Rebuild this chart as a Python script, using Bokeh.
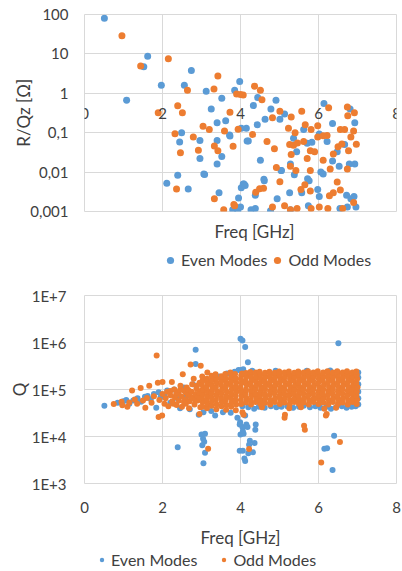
import math
from bokeh.plotting import figure
from bokeh.models import (FixedTicker, Legend, LegendItem, LinearAxis, Title)
from bokeh.layouts import column
from bokeh.embed import file_html
from bokeh.resources import INLINE

# ---------------- data ----------------
freq_ticks = [0, 2, 4, 6, 8]
freq_tick_labels = ["0", "2", "4", "6", "8"]
rq_ticks = [0.001, 0.01, 0.1, 1, 10, 100]
rq_tick_labels = ["0,001", "0,01", "0,1", "1", "10", "100"]
q_ticks = [1e3, 1e4, 1e5, 1e6, 1e7]
q_tick_labels = ["1E+3", "1E+4", "1E+5", "1E+6", "1E+7"]
series_names = ["Even Modes", "Odd Modes"]

even_rq_f = [0.51, 1.08, 1.52, 1.62, 1.97, 2.11, 2.39, 2.44, 2.49, 2.56, 2.66, 2.74, 2.96, 2.96, 3.06,
             3.08, 3.12, 3.25, 3.40, 3.40, 3.40, 3.45, 3.52, 3.52, 3.62, 3.72, 3.73, 3.80, 3.85, 3.93,
             3.95, 3.98, 4.00, 4.02, 4.02, 4.07, 4.09, 4.12, 4.15, 4.17, 4.20, 4.27, 4.33, 4.38, 4.38,
             4.43, 4.44, 4.51, 4.60, 4.61, 4.63, 4.77, 4.78, 4.91, 4.94, 5.01, 5.04, 5.05, 5.13, 5.26,
             5.28, 5.28, 5.36, 5.38, 5.44, 5.57, 5.62, 5.71, 5.72, 5.74, 5.76, 5.83, 5.98, 6.02, 6.02,
             6.06, 6.12, 6.14, 6.22, 6.36, 6.36, 6.48, 6.53, 6.55, 6.67, 6.72, 6.74, 6.79, 6.81, 6.83,
             6.91, 6.93, 6.93, 6.96]
even_rq_v = [80, 0.67, 4.7, 8.7, 1.6, 0.0052, 0.0083, 0.058, 0.1, 1.6, 0.0037, 3.8, 0.063, 0.022, 0.009,
             0.0087, 1.12, 0.4, 0.18, 0.063, 0.016, 0.003, 0.75, 0.025, 0.2, 0.087, 0.083, 0.0011, 1.2, 0.00105,
             0.0022, 2.0, 0.0013, 0.13, 0.004, 0.005, 0.005, 0.0046, 0.13, 0.062, 0.062, 0.0011, 0.49, 0.0026, 0.0012,
             0.16, 0.78, 0.02, 0.0066, 0.006, 0.22, 0.00105, 0.4, 0.67, 0.0021, 0.22, 0.011, 0.011, 0.3, 0.003,
             0.0011, 0.016, 0.072, 0.0086, 0.033, 0.003, 0.12, 0.054, 0.0068, 0.0014, 0.006, 0.057, 0.0036, 0.093, 0.0024,
             0.01, 0.009, 0.55, 0.06, 0.17, 0.019, 0.033, 0.014, 0.0012, 0.05, 0.0026, 0.0013, 0.016, 0.4, 0.0021,
             0.0024, 0.18, 0.016, 0.0013]

odd_rq_f = [0.96, 1.44, 1.89, 2.15, 2.32, 2.36, 2.39, 2.46, 2.51, 2.64, 2.79, 2.92, 3.04, 3.20, 3.32,
            3.33, 3.33, 3.42, 3.42, 3.57, 3.59, 3.73, 3.81, 3.83, 3.85, 3.90, 3.94, 4.00, 4.07, 4.31,
            4.36, 4.39, 4.49, 4.51, 4.55, 4.59, 4.68, 4.82, 4.82, 4.87, 4.92, 5.01, 5.01, 5.13, 5.23,
            5.26, 5.28, 5.28, 5.30, 5.30, 5.36, 5.40, 5.42, 5.45, 5.46, 5.55, 5.57, 5.62, 5.65, 5.66,
            5.71, 5.79, 5.79, 5.79, 5.81, 5.81, 5.90, 5.98, 5.98, 6.02, 6.12, 6.12, 6.22, 6.24, 6.26,
            6.28, 6.30, 6.38, 6.38, 6.48, 6.50, 6.56, 6.56, 6.60, 6.62, 6.67, 6.74, 6.74, 6.75, 6.77,
            6.83, 6.90, 6.90, 6.92, 6.97]
odd_rq_v = [29, 4.9, 0.32, 7.5, 0.094, 0.0037, 0.48, 0.031, 0.32, 1.19, 0.078, 0.036, 0.146, 0.12, 1.28,
            0.046, 0.0021, 2.75, 0.035, 0.0011, 0.11, 0.33, 0.045, 0.0015, 0.0014, 0.96, 0.123, 0.93, 0.9, 0.09,
            1.5, 0.0031, 0.0038, 1.2, 0.69, 0.0039, 0.06, 0.24, 0.0013, 0.039, 0.013, 0.35, 0.0057, 0.0014, 0.13,
            0.05, 0.014, 0.0011, 0.25, 0.028, 0.048, 0.1, 0.011, 0.0012, 0.055, 0.0036, 0.35, 0.06, 0.0048, 0.16,
            0.022, 0.035, 0.011, 0.0033, 0.12, 0.0012, 0.033, 0.15, 0.078, 0.0013, 0.084, 0.02, 0.085, 0.0012, 0.43,
            0.0025, 0.012, 0.029, 0.003, 0.0056, 0.044, 0.12, 0.0035, 0.052, 0.0012, 0.12, 0.45, 0.012, 0.27, 0.035,
            0.078, 0.11, 0.0017, 0.32, 0.051]

# (frequency GHz, Q)
even_q = [
    (0.51, 4.5e4), (0.85, 5.2e4), (1.0, 5.6e4), (1.07, 6.0e4), (1.15, 5.0e4), (1.25, 5.8e4), (1.36, 6.5e4),
    (1.45, 5.5e4), (1.55, 7.0e4), (1.62, 7.3e4), (1.7, 6.2e4), (1.78, 8.0e4), (1.84, 4.1e4), (1.9, 8.7e4),
    (1.95, 6.8e4), (2.05, 7.5e4), (2.12, 9.5e4), (2.2, 5.2e4), (2.3, 1.0e5), (2.38, 6.5e4), (2.45, 4.0e4),
    (2.55, 1.1e5), (2.6, 7.0e4), (2.7, 3.8e4), (2.78, 1.3e5), (2.85, 3.5e5), (2.85, 7.0e5), (2.93, 2.9e4),
    (3.0, 9.0e4), (3.05, 3.3e4), (3.15, 1.5e5), (3.25, 3.5e4), (3.35, 2.8e4), (3.45, 1.9e5), (3.55, 3.3e4),
    (3.65, 2.2e5), (3.75, 3.2e4), (3.85, 2.4e5), (3.92, 2.5e4), (3.95, 2.6e5),
    (2.39, 5.9e3), (3.09, 1.15e4), (3.07, 7.7e3), (3.04, 9.0e3), (3.09, 4.5e3), (3.05, 2.7e3), (3.0, 1.1e4),
    (3.02, 6.5e3),
    (4.0, 1.2e6), (4.05, 1.1e6), (4.12, 8.0e5), (4.19, 3.8e5), (4.02, 2.6e5), (4.07, 2.7e5), (3.99, 2.0e4),
    (3.98, 1.8e4), (4.0, 1.1e4), (3.98, 5.0e3), (4.05, 1.6e4), (4.06, 1.3e4), (4.08, 1.15e4), (4.12, 2.8e4),
    (4.15, 1.8e4), (4.18, 1.6e4), (4.24, 8.1e3), (4.22, 6.7e3), (4.2, 4.4e3), (4.06, 5.0e3), (4.32, 4.6e3),
    (4.12, 3.0e3), (4.1, 3.4e3), (4.39, 1.8e4), (4.38, 1.4e4), (4.36, 7.3e3),
    (6.51, 9.6e5), (6.4, 1.04e4), (6.15, 5.5e3), (6.22, 5.6e3), (6.36, 1.94e3),
    (4.05, 4.4e4), (4.2, 4.2e4), (4.35, 3.9e4), (4.47, 4.3e4), (4.62, 4.1e4), (4.78, 4.4e4), (4.92, 4.2e4),
    (5.05, 4.3e4), (5.2, 4.4e4), (5.35, 4.1e4), (5.5, 4.3e4), (5.62, 4.5e4), (5.78, 4.2e4), (5.92, 4.4e4),
    (6.05, 4.1e4), (6.2, 4.3e4), (6.32, 3.9e4), (6.45, 4.2e4), (6.6, 4.4e4), (6.72, 4.1e4), (6.85, 4.3e4),
    (6.95, 4.4e4), (7.02, 4.8e4), (7.02, 6.5e4), (7.02, 9.0e4), (7.02, 1.3e5), (7.02, 1.8e5), (7.02, 2.3e5),
    (4.3, 2.5e5), (4.9, 2.5e5), (5.7, 2.5e5), (6.3, 2.55e5),
]

odd_q = [
    (0.75, 4.9e4), (0.95, 5.5e4), (0.97, 4.6e4), (1.1, 4.3e4), (1.15, 5.3e4), (1.22, 9.5e4), (1.29, 6.1e4),
    (1.35, 5.0e4), (1.44, 1.07e5), (1.5, 5.8e4), (1.56, 4.1e4), (1.6, 6.6e4), (1.66, 1.2e5), (1.72, 5.2e4),
    (1.78, 7.2e4), (1.85, 5.3e5), (1.88, 1.4e5), (1.9, 2.6e4), (1.92, 6.0e4), (1.99, 2.8e4), (2.0, 1.45e5),
    (2.0, 8.0e4), (2.05, 5.0e4),
    (2.08, 6.5e4), (2.12, 9.0e4), (2.15, 4.4e4), (2.2, 7.5e4), (2.2, 9.3e4), (2.24, 1.45e5), (2.25, 5.6e4),
    (2.28, 5.0e4), (2.3, 1.0e5), (2.32, 6.8e4), (2.35, 7.8e4), (2.36, 4.7e4), (2.4, 8.5e4), (2.42, 5.8e4),
    (2.45, 9.8e4), (2.46, 1.2e5), (2.48, 7.2e4), (2.5, 4.3e4), (2.52, 2.1e5), (2.55, 9.5e4), (2.55, 5.4e4),
    (2.58, 6.2e4), (2.6, 8.5e4), (2.6, 5.0e4), (2.62, 1.1e5), (2.65, 7.8e4), (2.66, 9.8e4), (2.68, 4.0e4),
    (2.7, 5.6e4), (2.72, 3.4e5), (2.72, 7.0e4), (2.74, 9.0e4), (2.76, 1.3e5), (2.78, 6.6e4), (2.8, 1.7e5),
    (2.82, 4.8e4), (2.84, 6.0e4), (2.85, 8.0e4), (2.87, 1.05e5), (2.88, 1.2e5), (2.9, 5.8e4), (2.92, 7.0e4),
    (2.94, 8.6e4), (2.95, 1.4e5), (2.95, 3.0e4), (2.97, 4.2e4), (2.98, 3.2e5), (3.0, 9.5e4),
    (3.02, 4.3e4), (3.03, 5.4e4), (3.01, 6.6e4), (3.02, 8.2e4), (3.04, 1.0e5), (3.01, 1.25e5), (3.03, 1.55e5), (3.02, 1.9e5),
    (3.14, 4.0e4), (3.15, 4.9e4), (3.13, 6.0e4), (3.14, 7.4e4), (3.16, 9.1e4), (3.13, 1.12e5), (3.15, 1.38e5), (3.14, 1.7e5), (3.15, 2.3e5),
    (3.26, 4.5e4), (3.27, 5.6e4), (3.25, 6.8e4), (3.26, 8.4e4), (3.28, 1.04e5), (3.25, 1.28e5), (3.27, 1.58e5), (3.26, 1.95e5),
    (3.38, 3.8e4), (3.39, 4.8e4), (3.37, 6.0e4), (3.38, 7.5e4), (3.40, 9.2e4), (3.37, 1.13e5), (3.39, 1.4e5), (3.38, 1.72e5), (3.36, 2.1e5),
    (3.51, 4.4e4), (3.52, 5.5e4), (3.50, 6.7e4), (3.51, 8.3e4), (3.53, 1.02e5), (3.50, 1.26e5), (3.52, 1.55e5), (3.51, 1.92e5),
    (3.63, 3.7e4), (3.64, 4.7e4), (3.62, 5.9e4), (3.63, 7.3e4), (3.65, 9.0e4), (3.62, 1.11e5), (3.64, 1.37e5), (3.63, 1.7e5), (3.61, 2.15e5),
    (3.76, 4.3e4), (3.77, 5.3e4), (3.75, 6.6e4), (3.76, 8.2e4), (3.78, 1.01e5), (3.75, 1.24e5), (3.77, 1.53e5), (3.76, 1.9e5), (3.74, 2.3e5),
    (3.88, 3.6e4), (3.89, 4.8e4), (3.87, 5.9e4), (3.88, 7.4e4), (3.90, 9.1e4), (3.87, 1.13e5), (3.89, 1.39e5), (3.88, 1.72e5), (3.86, 2.15e5),
    (3.17, 5.5e3), (4.22, 5.4e3), (5.13, 2.5e4), (5.14, 2.9e4), (5.63, 1.7e4), (5.65, 1.4e4), (6.19, 2.8e4),
    (6.21, 3.0e4), (6.07, 2.8e3), (6.55, 7.6e3), (4.05, 3.3e4), (4.08, 2.9e4),
    (5.25, 4.0e4), (5.55, 4.2e4), (6.15, 3.9e4), (6.45, 4.1e4), (4.55, 4.2e4),
    (4.02, 4.9e4), (4.01, 6.0e4), (4.03, 7.4e4), (4.02, 9.1e4), (4.00, 1.12e5), (4.03, 1.38e5), (4.01, 1.68e5), (4.02, 2.0e5), (4.04, 2.2e5),
    (4.14, 5.3e4), (4.15, 6.6e4), (4.13, 8.2e4), (4.14, 1.0e5), (4.16, 1.24e5), (4.13, 1.52e5), (4.15, 1.86e5), (4.14, 2.25e5),
    (4.27, 4.8e4), (4.26, 6.0e4), (4.28, 7.5e4), (4.27, 9.3e4), (4.29, 1.13e5), (4.26, 1.4e5), (4.28, 1.72e5), (4.27, 2.08e5), (4.25, 2.35e5),
    (4.39, 5.4e4), (4.40, 6.7e4), (4.38, 8.1e4), (4.39, 1.02e5), (4.41, 1.26e5), (4.38, 1.55e5), (4.40, 1.89e5), (4.39, 2.3e5),
    (4.51, 4.9e4), (4.52, 5.9e4), (4.50, 7.3e4), (4.51, 9.0e4), (4.53, 1.1e5), (4.50, 1.36e5), (4.52, 1.69e5), (4.51, 2.06e5), (4.49, 2.4e5),
    (4.63, 5.2e4), (4.64, 6.5e4), (4.62, 8.0e4), (4.63, 1.01e5), (4.65, 1.23e5), (4.62, 1.5e5), (4.64, 1.85e5), (4.63, 2.26e5),
    (4.76, 4.8e4), (4.77, 6.0e4), (4.75, 7.6e4), (4.76, 9.2e4), (4.78, 1.14e5), (4.75, 1.4e5), (4.77, 1.71e5), (4.76, 2.09e5), (4.74, 2.4e5),
    (4.88, 5.4e4), (4.89, 6.6e4), (4.87, 8.3e4), (4.88, 1.03e5), (4.90, 1.25e5), (4.87, 1.53e5), (4.89, 1.87e5), (4.88, 2.27e5),
    (5.01, 4.9e4), (5.02, 6.1e4), (5.00, 7.4e4), (5.01, 9.1e4), (5.03, 1.12e5), (5.00, 1.39e5), (5.02, 1.7e5), (5.01, 2.05e5), (4.99, 2.42e5),
    (5.13, 5.3e4), (5.14, 6.7e4), (5.12, 8.1e4), (5.13, 1.0e5), (5.15, 1.24e5), (5.12, 1.54e5), (5.14, 1.88e5), (5.13, 2.3e5),
    (5.26, 4.8e4), (5.27, 6.0e4), (5.25, 7.5e4), (5.26, 9.3e4), (5.28, 1.13e5), (5.25, 1.38e5), (5.27, 1.7e5), (5.26, 2.07e5), (5.24, 2.42e5),
    (5.38, 5.4e4), (5.39, 6.6e4), (5.37, 8.2e4), (5.38, 1.02e5), (5.40, 1.25e5), (5.37, 1.55e5), (5.39, 1.88e5), (5.38, 2.28e5),
    (5.50, 4.9e4), (5.51, 6.0e4), (5.49, 7.4e4), (5.50, 9.2e4), (5.52, 1.12e5), (5.49, 1.38e5), (5.51, 1.7e5), (5.50, 2.06e5), (5.48, 2.43e5),
    (5.62, 5.3e4), (5.63, 6.6e4), (5.61, 8.2e4), (5.62, 1.01e5), (5.64, 1.24e5), (5.61, 1.53e5), (5.63, 1.87e5), (5.62, 2.29e5),
    (5.75, 4.8e4), (5.76, 6.0e4), (5.74, 7.5e4), (5.75, 9.3e4), (5.77, 1.13e5), (5.74, 1.39e5), (5.76, 1.71e5), (5.75, 2.08e5), (5.73, 2.44e5),
    (5.87, 5.4e4), (5.88, 6.6e4), (5.86, 8.2e4), (5.87, 1.02e5), (5.89, 1.25e5), (5.86, 1.54e5), (5.88, 1.88e5), (5.87, 2.3e5),
    (6.00, 4.9e4), (6.01, 6.1e4), (5.99, 7.4e4), (6.00, 9.1e4), (6.02, 1.12e5), (5.99, 1.38e5), (6.01, 1.7e5), (6.00, 2.06e5), (5.98, 2.44e5),
    (6.12, 5.3e4), (6.13, 6.6e4), (6.11, 8.2e4), (6.12, 1.01e5), (6.14, 1.24e5), (6.11, 1.53e5), (6.13, 1.87e5), (6.12, 2.3e5),
    (6.25, 4.8e4), (6.26, 6.0e4), (6.24, 7.5e4), (6.25, 9.3e4), (6.27, 1.13e5), (6.24, 1.39e5), (6.26, 1.71e5), (6.25, 2.08e5), (6.23, 2.45e5),
    (6.37, 5.4e4), (6.38, 6.6e4), (6.36, 8.2e4), (6.37, 1.02e5), (6.39, 1.25e5), (6.36, 1.54e5), (6.38, 1.88e5), (6.37, 2.3e5),
    (6.50, 4.9e4), (6.51, 6.1e4), (6.49, 7.4e4), (6.50, 9.1e4), (6.52, 1.12e5), (6.49, 1.38e5), (6.51, 1.7e5), (6.50, 2.06e5), (6.48, 2.45e5),
    (6.62, 5.3e4), (6.63, 6.6e4), (6.61, 8.2e4), (6.62, 1.01e5), (6.64, 1.24e5), (6.61, 1.53e5), (6.63, 1.87e5), (6.62, 2.3e5),
    (6.75, 4.8e4), (6.76, 6.0e4), (6.74, 7.5e4), (6.75, 9.3e4), (6.77, 1.13e5), (6.74, 1.39e5), (6.76, 1.71e5), (6.75, 2.08e5), (6.73, 2.45e5),
    (6.87, 5.4e4), (6.88, 6.6e4), (6.86, 8.2e4), (6.87, 1.02e5), (6.89, 1.25e5), (6.86, 1.54e5), (6.88, 1.88e5), (6.87, 2.3e5),
    (6.98, 4.9e4), (6.99, 6.1e4), (6.97, 7.4e4), (6.98, 9.1e4), (7.00, 1.12e5), (6.97, 1.38e5), (6.99, 1.7e5), (6.98, 2.06e5), (6.97, 2.42e5),
]

even_q_f = [a for a, b in even_q]
even_q_v = [b for a, b in even_q]
odd_q_f = [a for a, b in odd_q]
odd_q_v = [b for a, b in odd_q]

# ---------------- style ----------------
FONT = "Lato"
BLUE = "#5B9BD5"
ORANGE = "#ED7D31"
TXT = "#404040"
GRID = "#D9D9D9"
W = 402
NAN = float("nan")


def style(p, yticks, ylabels):
    p.background_fill_color = "white"
    p.border_fill_color = "white"
    p.outline_line_color = GRID
    p.xgrid.grid_line_color = GRID
    p.ygrid.grid_line_color = GRID
    p.xaxis.ticker = FixedTicker(ticks=freq_ticks)
    p.yaxis.ticker = FixedTicker(ticks=yticks)
    p.yaxis.major_label_overrides = dict(zip(yticks, ylabels))
    for ax in (p.xaxis, p.yaxis):
        ax.axis_line_color = None
        ax.major_tick_line_color = None
        ax.minor_tick_line_color = None
        ax.major_tick_out = 0
        ax.major_label_text_font = FONT
        ax.major_label_text_font_size = "15px"
        ax.major_label_text_color = TXT
    p.yaxis.axis_label_text_font = FONT
    p.yaxis.axis_label_text_font_style = "normal"
    p.yaxis.axis_label_text_color = TXT


def legend_strip(height, size, loc, glyph, standoff, spacing):
    # a thin strip under a chart that only holds its legend (frame is aligned with the chart's frame)
    lf = figure(width=W, height=height, x_range=(0, 1), y_range=(0, 1), output_backend="svg",
                toolbar_location=None, min_border=0)
    lf.axis.visible = False
    lf.grid.visible = False
    lf.outline_line_color = None
    lf.background_fill_color = "white"
    lf.border_fill_color = "white"
    re = lf.scatter(x=[NAN], y=[NAN], size=size, color=BLUE, line_color=None)
    ro = lf.scatter(x=[NAN], y=[NAN], size=size, color=ORANGE, line_color=None)
    leg = Legend(items=[LegendItem(label=series_names[0], renderers=[re]),
                        LegendItem(label=series_names[1], renderers=[ro])],
                 orientation="horizontal", location=loc, glyph_width=glyph, glyph_height=glyph,
                 label_standoff=standoff, spacing=spacing, padding=0, margin=0,
                 border_line_color=None, background_fill_alpha=0,
                 label_text_font=FONT, label_text_font_size="16px", label_text_color=TXT,
                 label_height=glyph, label_text_baseline="middle")
    lf.add_layout(leg)
    return lf


# ---------------- top chart: R/Q ----------------
p1 = figure(width=W, height=248, x_range=(0, 8), y_range=(0.001, 100), y_axis_type="log",
            output_backend="svg", toolbar_location=None,
            min_border_left=84, min_border_right=6, min_border_top=14, min_border_bottom=33)
style(p1, rq_ticks, rq_tick_labels)
p1.yaxis.major_label_standoff = 16
p1.yaxis.axis_label = "R/Qz [Ω]"
p1.yaxis.axis_label_standoff = -7
p1.yaxis.axis_label_text_font_size = "17px"
p1.xaxis.visible = False

# horizontal axis crossing the log axis at 1, as in the original
cross_axis = LinearAxis(fixed_location=1, ticker=FixedTicker(ticks=freq_ticks),
                        axis_line_color=None, major_tick_line_color=None, minor_tick_line_color=None,
                        major_tick_out=0, major_label_standoff=15,
                        major_label_text_font=FONT, major_label_text_font_size="15px",
                        major_label_text_color=TXT)
p1.add_layout(cross_axis, "below")

p1.scatter(even_rq_f, even_rq_v, size=7, color=BLUE, line_color=None)
p1.scatter(odd_rq_f, odd_rq_v, size=7, color=ORANGE, line_color=None)

p1.add_layout(Title(text="Freq [GHz]", align="left", offset=130, standoff=14,
                    text_font=FONT, text_font_size="17px", text_font_style="normal",
                    text_color=TXT), "below")

leg1 = legend_strip(24, 7, (77, 3), 18, 2, 1)

# ---------------- bottom chart: Q ----------------
p2 = figure(width=W, height=278, x_range=(0, 8), y_range=(1e3, 1e7), y_axis_type="log",
            output_backend="svg", toolbar_location=None,
            min_border_left=84, min_border_right=6, min_border_top=23, min_border_bottom=62)
style(p2, q_ticks, q_tick_labels)
p2.yaxis.major_label_standoff = 18
p2.yaxis.axis_label = "Q"
p2.yaxis.axis_label_standoff = -1
p2.yaxis.axis_label_text_font_size = "17px"
p2.xaxis.major_label_standoff = 18
p2.xaxis.axis_label = "Freq [GHz]"
p2.xaxis.axis_label_standoff = 11
p2.xaxis.axis_label_text_font = FONT
p2.xaxis.axis_label_text_font_size = "17px"
p2.xaxis.axis_label_text_font_style = "normal"
p2.xaxis.axis_label_text_color = TXT

p2.scatter(even_q_f, even_q_v, size=6, color=BLUE, line_color=None)
p2.scatter(odd_q_f, odd_q_v, size=6, color=ORANGE, line_color=None)

leg2 = legend_strip(21, 4.5, (12, 2), 11, 4, 21)

layout = column(p1, leg1, p2, leg2, spacing=0)
open("out.html", "w").write(file_html(layout, INLINE))
